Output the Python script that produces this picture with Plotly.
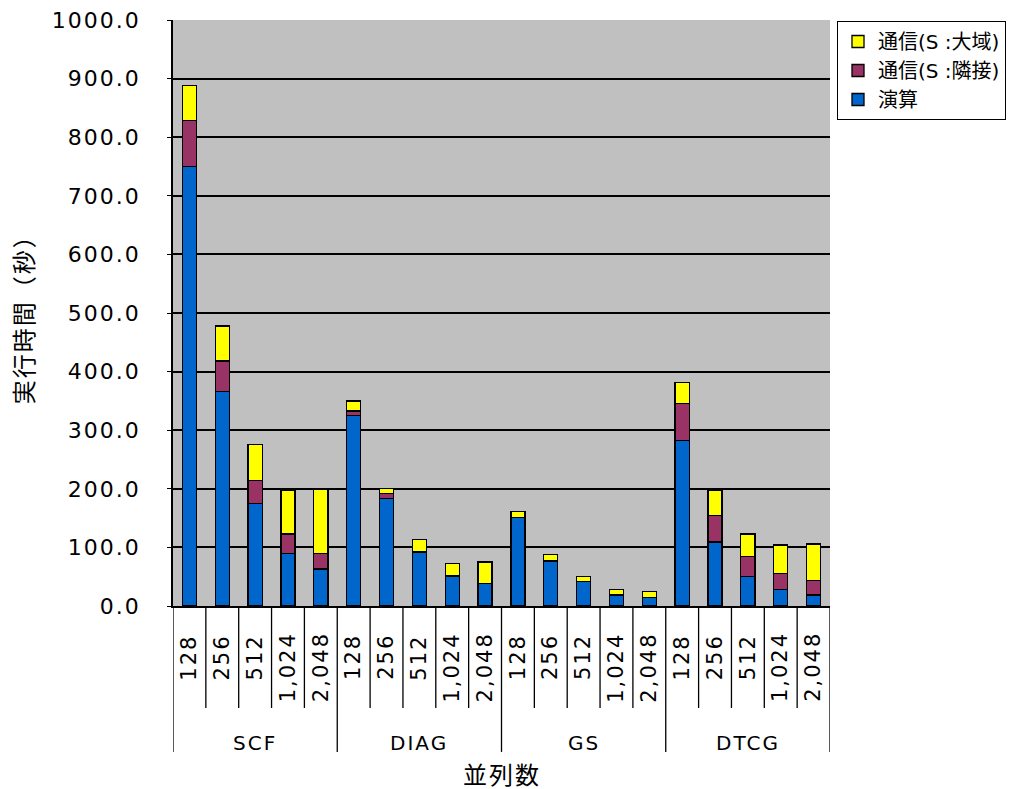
import plotly.graph_objects as go

groups = ["SCF", "DIAG", "GS", "DTCG"]
procs = ["128", "256", "512", "1,024", "2,048"]

compute = [750, 366, 175, 90, 63,
           325, 184, 92, 51, 38,
           151, 77, 42, 19, 14,
           282, 109, 50, 28, 19]
comm_neighbor = [78, 52, 39, 33, 27,
                 8, 8, 1, 1, 1,
                 0, 0, 0, 0, 0,
                 64, 46, 35, 27, 25]
comm_global = [60, 60, 62, 74, 109,
               17, 8, 20, 21, 36,
               10, 11, 8, 9, 11,
               36, 42, 38, 49, 62]

series_names = ["演算", "通信(S :隣接)", "通信(S :大域)"]
series_colors = ["#0066CC", "#993366", "#FFFF00"]

FONT = "DejaVu Sans, Noto Sans CJK JP"
n = len(groups) * len(procs)
xs = list(range(n))

fig = go.Figure()
for name, vals, col in zip(series_names, [compute, comm_neighbor, comm_global], series_colors):
    fig.add_trace(go.Bar(x=xs, y=vals, name=name, width=0.43,
                         marker=dict(color=col, line=dict(color="black", width=1.3))))

shapes = []
annotations = []
for k in range(n + 1):
    long = (k % len(procs) == 0)
    shapes.append(dict(type="line", xref="x", yref="paper", x0=k - 0.5, x1=k - 0.5,
                       y0=0, y1=-0.249 if long else -0.174,
                       line=dict(color="black", width=1.3)))
for i in range(n):
    annotations.append(dict(x=i, y=-0.05, xref="x", yref="paper", text=procs[i % len(procs)],
                            textangle=-90, showarrow=False, xanchor="center", yanchor="top",
                            font=dict(size=21, color="black", family=FONT)))
for g, name in enumerate(groups):
    annotations.append(dict(x=g * len(procs) + 2, y=-0.234, xref="x", yref="paper", text=name,
                            showarrow=False, xanchor="center", yanchor="middle",
                            font=dict(size=20, color="black", family=FONT)))
annotations.append(dict(x=0.5, y=-0.29, xref="paper", yref="paper", text="並列数",
                        showarrow=False, xanchor="center", yanchor="middle",
                        font=dict(size=24, color="black", family=FONT)))
annotations.append(dict(x=-0.225, y=0.5, xref="paper", yref="paper", text="実行時間（秒）",
                        textangle=-90, showarrow=False, xanchor="center", yanchor="middle",
                        font=dict(size=24, color="black", family=FONT)))

fig.update_layout(
    width=1013, height=789,
    margin=dict(l=173, r=183, t=20, b=183, autoexpand=False),
    barmode="stack",
    plot_bgcolor="#C0C0C0",
    paper_bgcolor="white",
    font=dict(family=FONT, size=20, color="black"),
    shapes=shapes,
    annotations=annotations,
    legend=dict(xref="container", yref="container", x=837 / 1013, y=1 - 21 / 789,
                xanchor="left", yanchor="top", traceorder="reversed",
                bordercolor="black", borderwidth=1, bgcolor="white",
                font=dict(size=20, family=FONT), itemwidth=30, tracegroupgap=0),
    xaxis=dict(range=[-0.5, n - 0.5], showticklabels=False, showgrid=False, zeroline=False,
               showline=True, linecolor="black", linewidth=1.5, ticks="", automargin=False),
    yaxis=dict(range=[0, 1000], dtick=100, tickformat=".1f", showgrid=True,
               gridcolor="black", gridwidth=1.5, zeroline=False, showline=True,
               linecolor="black", linewidth=1.5, ticks="outside", ticklen=4,
               tickcolor="black", tickfont=dict(size=22, family=FONT),
               ticklabelstandoff=22, automargin=False),
    bargap=0.5,
)

post = """
document.body.style.margin='0';
document.body.style.overflow='hidden';
var st=document.createElement('style');
st.textContent='.ytick text, .annotation-text {letter-spacing:2px;}';
document.head.appendChild(st);
"""

fig.write_html("out.html", config={"responsive": False, "displayModeBar": False},
               post_script=post)
